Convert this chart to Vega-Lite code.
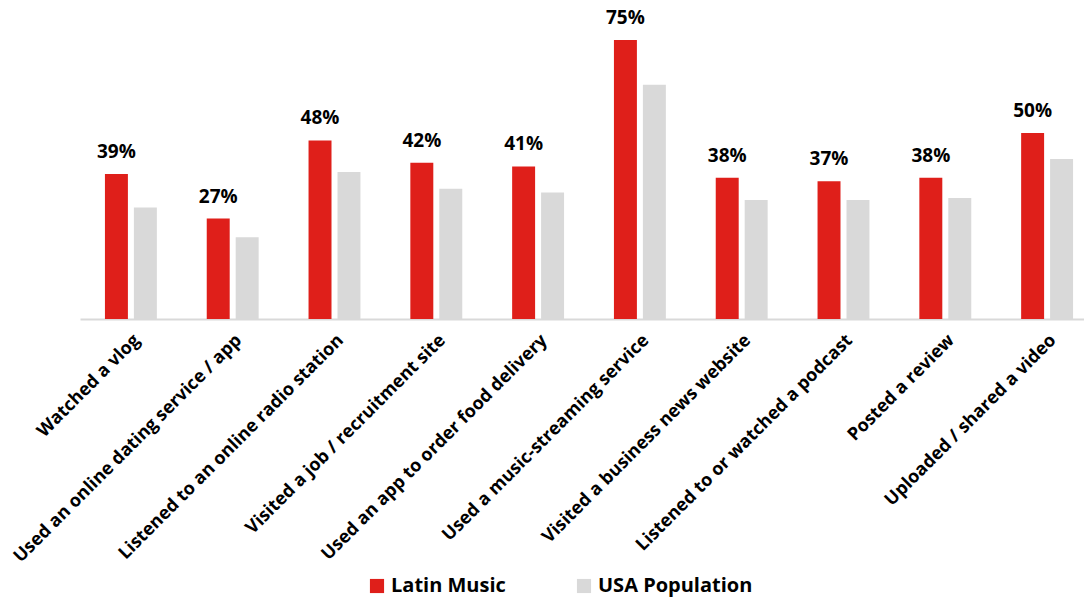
{
  "$schema": "https://vega.github.io/schema/vega-lite/v6.json",
  "width": 1018,
  "height": 319,
  "padding": {"left": 80, "top": 0, "right": 0, "bottom": 278},
  "autosize": {"type": "none"},
  "background": "white",
  "config": {"view": {"stroke": null}, "font": "Open Sans"},
  "data": {
    "values": [
      {"activity": "Watched a vlog", "group": "Latin Music", "value": 0.39},
      {"activity": "Watched a vlog", "group": "USA Population", "value": 0.30},
      {"activity": "Used an online dating service / app", "group": "Latin Music", "value": 0.27},
      {"activity": "Used an online dating service / app", "group": "USA Population", "value": 0.22},
      {"activity": "Listened to an online radio station", "group": "Latin Music", "value": 0.48},
      {"activity": "Listened to an online radio station", "group": "USA Population", "value": 0.395},
      {"activity": "Visited a job / recruitment site", "group": "Latin Music", "value": 0.42},
      {"activity": "Visited a job / recruitment site", "group": "USA Population", "value": 0.35},
      {"activity": "Used an app to order food delivery", "group": "Latin Music", "value": 0.41},
      {"activity": "Used an app to order food delivery", "group": "USA Population", "value": 0.34},
      {"activity": "Used a music-streaming service", "group": "Latin Music", "value": 0.75},
      {"activity": "Used a music-streaming service", "group": "USA Population", "value": 0.63},
      {"activity": "Visited a business news website", "group": "Latin Music", "value": 0.38},
      {"activity": "Visited a business news website", "group": "USA Population", "value": 0.32},
      {"activity": "Listened to or watched a podcast", "group": "Latin Music", "value": 0.37},
      {"activity": "Listened to or watched a podcast", "group": "USA Population", "value": 0.32},
      {"activity": "Posted a review", "group": "Latin Music", "value": 0.38},
      {"activity": "Posted a review", "group": "USA Population", "value": 0.325},
      {"activity": "Uploaded / shared a video", "group": "Latin Music", "value": 0.50},
      {"activity": "Uploaded / shared a video", "group": "USA Population", "value": 0.43}
    ]
  },
  "encoding": {
    "x": {
      "field": "activity", "type": "nominal", "sort": null, "title": null,
      "scale": {"paddingInner": 0.49, "paddingOuter": 0.245},
      "axis": {
        "labelAngle": -45, "labelFontSize": 18, "labelFontWeight": "bold", "labelColor": "#000000",
        "labelFont": "Open Sans", "labelLimit": 400, "ticks": false, "labelPadding": 12,
        "domainColor": "#d9d9d9", "domainWidth": 2
      }
    },
    "xOffset": {"field": "group", "type": "nominal", "scale": {"paddingInner": 0.207, "paddingOuter": 0}},
    "y": {"field": "value", "type": "quantitative", "scale": {"domain": [0, 0.8575]}, "axis": null}
  },
  "layer": [
    {
      "mark": {"type": "bar"},
      "encoding": {
        "color": {
          "field": "group", "type": "nominal",
          "scale": {"domain": ["Latin Music", "USA Population"], "range": ["#df1f1a", "#d9d9d9"]},
          "legend": {
            "title": null, "orient": "none", "direction": "horizontal", "legendX": 287, "legendY": 576,
            "symbolType": "square", "symbolSize": 200, "symbolStrokeWidth": 0, "labelFontSize": 20, "labelFontWeight": "bold",
            "labelColor": "#000000", "labelFont": "Open Sans", "columnPadding": 68, "labelOffset": 4, "labelLimit": 300
          }
        }
      }
    },
    {
      "transform": [{"filter": "datum.group === 'Latin Music'"}],
      "mark": {"type": "text", "baseline": "alphabetic", "dy": -16, "fontSize": 19, "fontWeight": "bold", "color": "#000000", "font": "Open Sans"},
      "encoding": {"text": {"field": "value", "type": "quantitative", "format": ".0%"}}
    }
  ]
}
